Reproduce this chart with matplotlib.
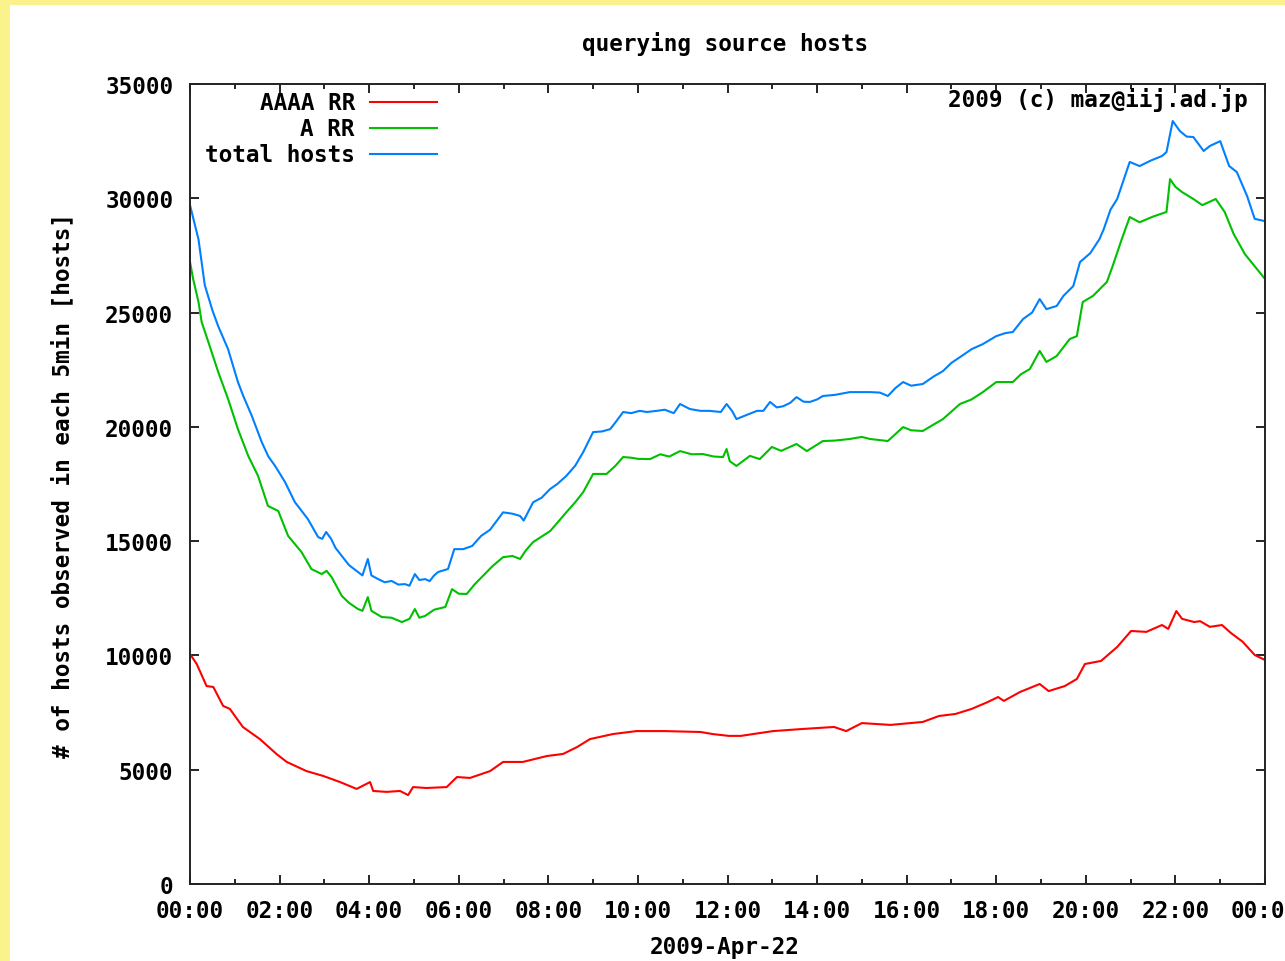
import matplotlib
matplotlib.use("Agg")
import matplotlib.pyplot as plt
from matplotlib.patches import Rectangle
from matplotlib.ticker import MultipleLocator, FuncFormatter

# ---------------- data (hours since 00:00, hosts per 5 min) ----------------
total_t = [0.0, 0.1, 0.19, 0.33, 0.5, 0.63, 0.85, 1.07, 1.2, 1.38, 1.6, 1.75, 1.9, 2.12, 2.34, 2.5,
           2.63, 2.86, 2.95, 3.04, 3.15, 3.25, 3.39, 3.55, 3.75, 3.85, 3.97, 4.05, 4.2, 4.35, 4.5,
           4.65, 4.8, 4.9, 5.02, 5.12, 5.25, 5.35, 5.45, 5.54, 5.76, 5.9, 6.1, 6.3, 6.5, 6.7, 6.99,
           7.2, 7.37, 7.45, 7.66, 7.85, 8.04, 8.2, 8.4, 8.6, 8.78, 9.0, 9.2, 9.38, 9.5, 9.67, 9.85,
           10.04, 10.2, 10.42, 10.6, 10.8, 10.94, 11.16, 11.4, 11.6, 11.85, 11.98, 12.1, 12.2, 12.4,
           12.66, 12.8, 12.95, 13.1, 13.24, 13.4, 13.54, 13.7, 13.84, 14.0, 14.13, 14.4, 14.73, 15.0,
           15.18, 15.4, 15.58, 15.75, 15.92, 16.1, 16.36, 16.6, 16.81, 17.0, 17.19, 17.45, 17.7, 18.0,
           18.2, 18.37, 18.6, 18.8, 18.97, 19.12, 19.35, 19.5, 19.72, 19.87, 20.1, 20.3, 20.4, 20.55,
           20.7, 20.98, 21.2, 21.45, 21.7, 21.8, 21.94, 22.1, 22.25, 22.4, 22.63, 22.77, 23.0, 23.2,
           23.37, 23.6, 23.77, 24.0]
total_v = [29700, 28900, 28200, 26200, 25100, 24400, 23400, 21960, 21300, 20480, 19340, 18700, 18290,
           17590, 16710, 16300, 15970, 15180, 15100, 15400, 15100, 14700, 14350, 13950, 13650, 13500,
           14220, 13500, 13340, 13200, 13260, 13100, 13120, 13050, 13560, 13300, 13340, 13250, 13500,
           13650, 13780, 14650, 14650, 14790, 15230, 15500, 16260, 16200, 16100, 15900, 16700, 16900,
           17280, 17500, 17850, 18300, 18900, 19770, 19800, 19900, 20200, 20650, 20600, 20700, 20650,
           20700, 20750, 20600, 21000, 20780, 20700, 20700, 20650, 21000, 20700, 20340, 20500, 20700,
           20700, 21090, 20850, 20900, 21050, 21300, 21100, 21090, 21200, 21350, 21400, 21520, 21520,
           21520, 21500, 21350, 21700, 21960, 21800, 21875, 22200, 22440, 22800, 23050, 23400, 23620,
           23970, 24100, 24150, 24720, 25000, 25590, 25150, 25290, 25730, 26160, 27210, 27600, 28200,
           28650, 29500, 29970, 31590, 31410, 31650, 31850, 32020, 33380, 32940, 32700, 32680, 32070,
           32290, 32500, 31410, 31150, 30100, 29100, 29000]

a_t = [0.0, 0.07, 0.19, 0.26, 0.41, 0.63, 0.85, 1.07, 1.3, 1.52, 1.74, 1.97, 2.19, 2.49, 2.71, 2.94,
       3.05, 3.16, 3.39, 3.55, 3.75, 3.85, 3.97, 4.05, 4.28, 4.5, 4.73, 4.9, 5.02, 5.12, 5.25, 5.45,
       5.7, 5.85, 6.0, 6.18, 6.35, 6.54, 6.75, 6.99, 7.2, 7.37, 7.5, 7.66, 8.04, 8.2, 8.4, 8.6, 8.78,
       9.0, 9.3, 9.5, 9.67, 9.85, 10.0, 10.27, 10.5, 10.7, 10.94, 11.2, 11.45, 11.7, 11.9, 11.98,
       12.05, 12.2, 12.5, 12.72, 12.99, 13.2, 13.54, 13.77, 14.13, 14.4, 14.73, 15.0, 15.18, 15.58,
       15.92, 16.1, 16.36, 16.6, 16.81, 17.19, 17.45, 17.7, 18.0, 18.37, 18.55, 18.75, 18.97, 19.12,
       19.35, 19.64, 19.8, 19.93, 20.16, 20.47, 20.6, 20.8, 20.98, 21.2, 21.5, 21.8, 21.88, 22.0,
       22.15, 22.4, 22.6, 22.9, 23.1, 23.3, 23.55, 24.0]
a_v = [27210, 26470, 25460, 24590, 23710, 22400, 21220, 19900, 18730, 17850, 16540, 16320, 15230,
       14520, 13780, 13560, 13700, 13430, 12600, 12300, 12030, 11950, 12550, 11950, 11680, 11650,
       11460, 11600, 12030, 11650, 11730, 12000, 12120, 12900, 12700, 12690, 13100, 13480, 13900,
       14300, 14350, 14220, 14600, 14960, 15440, 15800, 16260, 16700, 17150, 17940, 17940, 18300,
       18680, 18650, 18600, 18590, 18800, 18700, 18940, 18800, 18810, 18700, 18680, 19030, 18500,
       18290, 18730, 18590, 19120, 18950, 19250, 18940, 19380, 19400, 19470, 19560, 19470, 19380,
       19990, 19850, 19820, 20100, 20340, 21000, 21200, 21520, 21960, 21960, 22300, 22530, 23320,
       22840, 23100, 23840, 23970, 25460, 25730, 26340, 27040, 28200, 29180, 28950, 29200, 29400,
       30840, 30500, 30270, 29970, 29700, 29970, 29400, 28440, 27560, 26470]

aaaa_t = [0.0, 0.15, 0.37, 0.52, 0.74, 0.89, 1.18, 1.56, 1.93, 2.16, 2.6, 2.97, 3.35, 3.72, 4.02,
          4.09, 4.39, 4.69, 4.87, 4.98, 5.28, 5.73, 5.96, 6.25, 6.7, 6.99, 7.43, 7.97, 8.33, 8.64,
          8.93, 9.44, 9.97, 10.58, 11.4, 11.67, 12.03, 12.3, 12.57, 13.02, 13.66, 14.38, 14.65,
          15.0, 15.64, 16.36, 16.72, 17.09, 17.45, 17.81, 18.04, 18.17, 18.53, 18.97, 19.17, 19.53,
          19.8, 19.98, 20.34, 20.7, 21.01, 21.35, 21.7, 21.84, 22.02, 22.15, 22.42, 22.55, 22.77,
          23.04, 23.24, 23.5, 23.77, 24.0]
aaaa_v = [10060, 9625, 8660, 8620, 7790, 7660, 6870, 6340, 5690, 5340, 4940, 4730, 4460, 4160, 4460,
          4070, 4030, 4070, 3890, 4240, 4200, 4240, 4680, 4640, 4940, 5340, 5340, 5600, 5690, 5990,
          6340, 6560, 6690, 6690, 6650, 6560, 6480, 6480, 6560, 6690, 6780, 6870, 6690, 7040, 6960,
          7090, 7350, 7440, 7660, 7960, 8180, 8010, 8400, 8750, 8440, 8660, 8970, 9625, 9760, 10370,
          11070, 11030, 11330, 11160, 11940, 11600, 11460, 11500, 11250, 11330, 10980, 10600, 10020,
          9800]

series_labels = ["AAAA RR", "A RR", "total hosts"]
series_colors = ["#ff0000", "#00c000", "#0080ff"]
xtick_labels = ["00:00", "02:00", "04:00", "06:00", "08:00", "10:00", "12:00",
                "14:00", "16:00", "18:00", "20:00", "22:00", "00:00"]

# ---------------- figure ----------------
W, H = 1285, 962
fig = plt.figure(figsize=(W / 100, H / 100), dpi=100)
fig.patch.set_facecolor("#fbf28c")
fig.add_artist(Rectangle((10 / W, 0), 1 - 10 / W, 1 - 6 / H, transform=fig.transFigure,
                         facecolor="white", edgecolor="none", zorder=0))

FONT = dict(family="DejaVu Sans Mono", weight="bold", size=16.3)

ax = fig.add_axes([190 / W, 1 - 885 / H, (1265 - 190) / W, (885 - 85) / H])
ax.set_facecolor("white")

for t, v, lab, col in zip([aaaa_t, a_t, total_t], [aaaa_v, a_v, total_v], series_labels, series_colors):
    ax.plot(t, v, color=col, lw=1.5, label=lab)

ax.set_xlim(0, 24)
ax.set_ylim(0, 35000)
ax.xaxis.set_major_locator(MultipleLocator(2))
ax.xaxis.set_minor_locator(MultipleLocator(1))
ax.yaxis.set_major_locator(MultipleLocator(5000))
ax.xaxis.set_major_formatter(FuncFormatter(
    lambda x, p: xtick_labels[int(round(x / 2))] if 0 <= round(x / 2) < len(xtick_labels) else ""))
ax.tick_params(which="both", direction="in", top=True, right=True, color="black", width=1.2)
ax.tick_params(which="major", length=6.5)
ax.tick_params(which="minor", length=3.8)
ax.tick_params(axis="y", pad=12)
ax.tick_params(axis="x", pad=11)
for lbl in ax.get_xticklabels() + ax.get_yticklabels():
    lbl.set_fontfamily(FONT["family"]); lbl.set_fontweight("bold"); lbl.set_fontsize(FONT["size"])
for sp in ax.spines.values():
    sp.set_linewidth(1.4)
    sp.set_color("#222222")

# legend (gnuplot style: right-aligned text, sample line to the right)
for i, (lab, col) in enumerate(zip(series_labels, series_colors)):
    yy = 1 - (103 + 26 * i - 85) / 800
    ax.text((355 - 190) / 1075, yy, lab, transform=ax.transAxes, ha="right", va="center", **FONT)
    ax.plot([(370 - 190) / 1075, (437 - 190) / 1075], [yy, yy], color=col, lw=1.5,
            transform=ax.transAxes, clip_on=False)

ax.text((1248 - 190) / 1075, 1 - (100 - 85) / 800, "2009 (c) maz@iij.ad.jp", transform=ax.transAxes,
        ha="right", va="center", **FONT)

fig.text(725 / W, 1 - 44 / H, "querying source hosts", ha="center", va="center", **FONT)
fig.text(725 / W, 1 - 948 / H, "2009-Apr-22", ha="center", va="center", **FONT)
fig.text(63 / W, 1 - 485 / H, "# of hosts observed in each 5min [hosts]", ha="center", va="center",
         rotation=90, **FONT)

fig.savefig("out.png", dpi=100, facecolor=fig.get_facecolor())
